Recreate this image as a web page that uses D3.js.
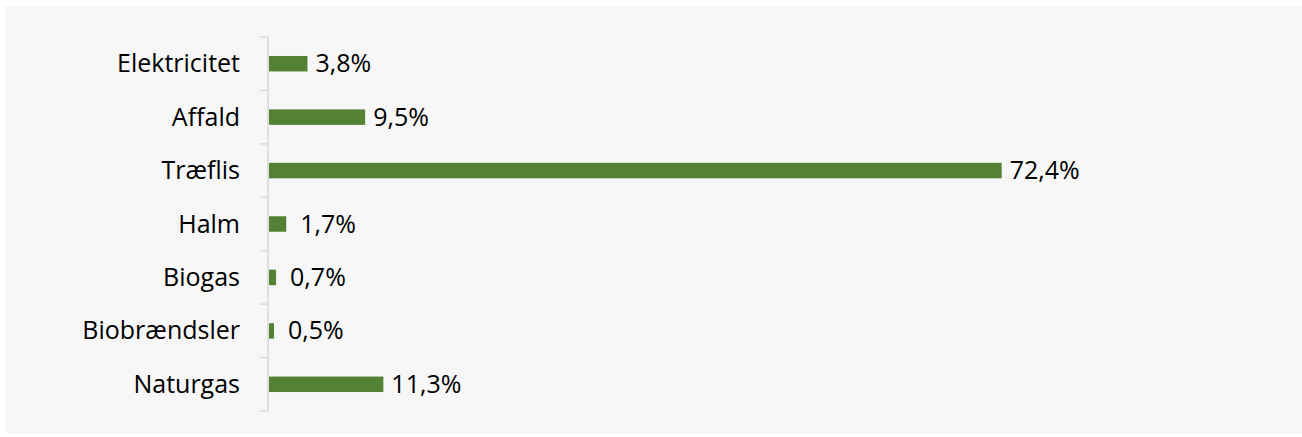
<!DOCTYPE html>
<html>
<head>
<meta charset="utf-8">
<script src="https://cdn.jsdelivr.net/npm/d3@7"></script>
<style>
    body { margin: 0; background: #ffffff; }
    text { font-family: "Open Sans", sans-serif; fill: #000000; }
</style>
</head>
<body>
<div id="chart"></div>
<script>
// data
const categories = ["Elektricitet", "Affald", "Træflis", "Halm", "Biogas", "Biobrændsler", "Naturgas"];
const shares = [3.8, 9.5, 72.4, 1.7, 0.7, 0.5, 11.3];
const shareLabels = ["3,8%", "9,5%", "72,4%", "1,7%", "0,7%", "0,5%", "11,3%"];

const width = 1302, height = 437;
const margin = {top: 37, bottom: 26, left: 268};

let svg = d3.select("#chart").append("svg")
    .attr("width", width)
    .attr("height", height);

// chart area background
svg.append("rect")
    .attr("x", 5).attr("y", 6)
    .attr("width", width - 5).attr("height", height - 10)
    .attr("fill", "#f7f7f7");

let y = d3.scaleBand()
    .domain(categories)
    .range([margin.top, height - margin.bottom])
    .paddingInner(0.71)
    .paddingOuter(0.355);

let x = d3.scaleLinear()
    .domain([0, 80])
    .range([margin.left + 1, margin.left + 1 + 809.6]);

let data = categories.map((c, i) => ({name: c, value: shares[i], label: shareLabels[i]}));

// category axis, excel style ticks between categories
let step = y.step();
let boundaries = d3.range(categories.length + 1).map(i => margin.top + i * step);

let axis = svg.append("g").attr("class", "y-axis");
axis.append("line")
    .attr("x1", margin.left).attr("x2", margin.left)
    .attr("y1", margin.top).attr("y2", boundaries[boundaries.length - 1])
    .attr("stroke", "#d9d9d9")
    .attr("stroke-width", 1.5);
axis.selectAll(".tick")
    .data(boundaries)
    .enter().append("line")
    .attr("class", "tick")
    .attr("x1", margin.left - 8).attr("x2", margin.left)
    .attr("y1", d => d).attr("y2", d => d)
    .attr("stroke", "#d9d9d9")
    .attr("stroke-width", 1.5);

axis.selectAll(".cat")
    .data(data)
    .enter().append("text")
    .attr("class", "cat")
    .attr("x", margin.left - 28)
    .attr("y", d => y(d.name) + y.bandwidth() / 2)
    .attr("dy", "0.34em")
    .attr("text-anchor", "end")
    .style("font-size", "25px")
    .text(d => d.name);

// bars
svg.selectAll(".bar")
    .data(data)
    .enter().append("rect")
    .attr("class", "bar")
    .attr("x", x(0))
    .attr("y", d => y(d.name))
    .attr("width", d => x(d.value) - x(0))
    .attr("height", y.bandwidth())
    .attr("fill", "#548235");

// value labels
svg.selectAll(".val")
    .data(data)
    .enter().append("text")
    .attr("class", "val")
    .attr("x", d => x(d.value) + (d.value < 2 ? 14 : 8))
    .attr("y", d => y(d.name) + y.bandwidth() / 2)
    .attr("dy", "0.34em")
    .style("font-size", "25px")
    .text(d => d.label);
</script>
</body>
</html>
